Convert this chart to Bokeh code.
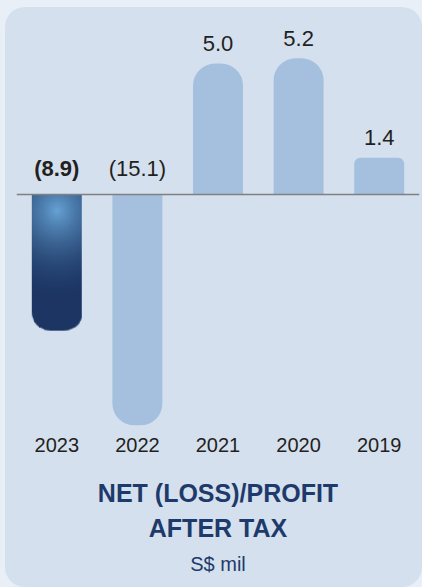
import numpy as np
from bokeh.plotting import figure
from bokeh.models import Range1d, Span, Title, ColumnDataSource, FactorRange, LabelSet
from bokeh.core.properties import value
from bokeh.embed import file_html
from bokeh.resources import INLINE

# ---- data ----
years = ["2023", "2022", "2021", "2020", "2019"]
values = [-8.9, -15.1, 5.0, 5.2, 1.4]
value_labels = ["(8.9)", "(15.1)", "5.0", "5.2", "1.4"]
title_line1 = "NET (LOSS)/PROFIT"
title_line2 = "AFTER TAX"
unit_label = "S$ mil"
highlight_year = years[0]

# ---- styles ----
PANEL = "#d5e0ee"
OUTER = "#e9eff7"
BAR = "#a4c0de"
NAVY = "#1e3a6b"
INK = "#231f20"
FONT = "Liberation Sans"
BAR_W = 0.62

W, H = 417, 580
p = figure(width=W, height=H, x_range=FactorRange(*years),
           y_range=Range1d(-8.817, 7.137),
           output_backend="svg", toolbar_location=None,
           min_border_left=11, min_border_right=3, min_border_top=0,
           min_border_bottom=162, y_axis_location=None)
p.extra_y_ranges = {"neg": Range1d(-15.098, 12.222)}

p.background_fill_color = None
p.border_fill_color = None
p.outline_line_color = None
p.xgrid.visible = False
p.ygrid.visible = False
p.styles = {"border-radius": "20px", "overflow": "hidden",
            "margin-left": "5px", "margin-top": "7px",
            "background-color": PANEL,
            "box-shadow": "0 0 0 30px " + OUTER}

# split data
big_pos = dict(x=[], top=[])
small_pos = dict(x=[], top=[])
neg = dict(x=[], bottom=[])
for y, v in zip(years, values):
    if y == highlight_year:
        continue
    if v < 0:
        neg["x"].append(y); neg["bottom"].append(v)
    elif v < 2:
        small_pos["x"].append(y); small_pos["top"].append(v)
    else:
        big_pos["x"].append(y); big_pos["top"].append(v)

p.vbar(x="x", top="top", bottom=0, width=BAR_W, source=ColumnDataSource(big_pos),
       fill_color=BAR, line_color=None, border_radius=(22, 22, 0, 0))
p.vbar(x="x", top="top", bottom=0, width=BAR_W, source=ColumnDataSource(small_pos),
       fill_color=BAR, line_color=None, border_radius=(6, 6, 0, 0))
p.vbar(x="x", top=0, bottom="bottom", width=BAR_W, source=ColumnDataSource(neg),
       fill_color=BAR, line_color=None, border_radius=(0, 0, 22, 22),
       y_range_name="neg")

# gradient bar for highlighted year (radial highlight near top)
hi_idx = years.index(highlight_year)
hv = values[hi_idx]
R, C = 160, 60
pxw, pxh = 50.0, 136.0
rows = np.arange(R)
cols = np.arange(C)
t = 1.0 - (rows[:, None] + 0.5) / R          # 0 at baseline, 1 at bar end
u = (cols[None, :] + 0.5) / C
dx = (u - 0.5) * pxw
dy = (t - 0.12) * pxh
d = np.sqrt(dx ** 2 + (dy * 0.9) ** 2)
s = 1.0 - (1.0 - np.clip(d / 85.0, 0, 1)) ** 2
light = np.array([0x66, 0xa3, 0xd4], dtype=float)
dark = np.array([0x1c, 0x35, 0x63], dtype=float)
rgb = light[None, None, :] * (1 - s[..., None]) + dark[None, None, :] * s[..., None]
# rounded bottom mask
xp = u * pxw
yp = t * pxh
r = 18.0
alpha = np.ones((R, C))
cy = pxh - r
for cx in (r, pxw - r):
    if cx == r:
        zone = (yp > cy) & (xp < r)
    else:
        zone = (yp > cy) & (xp > pxw - r)
    dist = np.sqrt((xp - cx) ** 2 + (yp - cy) ** 2)
    a = np.clip(r + 0.5 - dist, 0, 1)
    alpha = np.where(zone, a, alpha)
img = np.zeros((R, C, 4), dtype=np.uint8)
img[..., :3] = np.clip(rgb, 0, 255).astype(np.uint8)
img[..., 3] = (alpha * 255).astype(np.uint8)
img32 = img.view(dtype=np.uint32).reshape((R, C))
p.image_rgba(image=[img32], x=hi_idx + 0.5 - BAR_W / 2, y=hv, dw=BAR_W, dh=-hv,
             y_range_name="neg")

# baseline
p.add_layout(Span(location=0, dimension="width", line_color="#7f8080", line_width=1.5))

# value labels
pos_lab = dict(x=[], y=[], t=[])
neg_lab = dict(x=[], y=[], t=[])
hi_lab = dict(x=[], y=[], t=[])
for y, v, lab in zip(years, values, value_labels):
    if y == highlight_year:
        hi_lab["x"].append(y); hi_lab["y"].append(0); hi_lab["t"].append(lab)
    elif v < 0:
        neg_lab["x"].append(y); neg_lab["y"].append(0); neg_lab["t"].append(lab)
    else:
        pos_lab["x"].append(y); pos_lab["y"].append(v); pos_lab["t"].append(lab)

common = dict(x="x", y="y", text="t", text_align="center", text_baseline="middle",
              text_font=value(FONT), text_font_size=value("22px"), text_color=value(INK))
p.add_layout(LabelSet(source=ColumnDataSource(pos_lab), y_offset=20, **common))
p.add_layout(LabelSet(source=ColumnDataSource(neg_lab), y_offset=26, **common))
p.add_layout(LabelSet(source=ColumnDataSource(hi_lab), y_offset=26,
                      text_font_style=value("bold"), **common))

# x axis
ax = p.xaxis[0]
ax.axis_line_color = None
ax.major_tick_line_color = None
ax.minor_tick_line_color = None
ax.major_label_standoff = 6
ax.major_label_text_font = FONT
ax.major_label_text_font_size = "20px"
ax.major_label_text_color = INK

# titles below (first one is an empty spacer)
p.add_layout(Title(text=" ", align="center", text_font=FONT, text_font_size="1px",
                   text_color=PANEL, standoff=17), "below")
p.add_layout(Title(text=title_line1, align="center", text_font=FONT, text_font_size="25px",
                   text_font_style="bold", text_color=NAVY, standoff=5), "below")
p.add_layout(Title(text=title_line2, align="center", text_font=FONT, text_font_size="25px",
                   text_font_style="bold", text_color=NAVY, standoff=5), "below")
p.add_layout(Title(text=unit_label, align="center", text_font=FONT, text_font_size="20px",
                   text_font_style="normal", text_color=NAVY, standoff=13), "below")

open("out.html", "w").write(file_html(p, INLINE))
